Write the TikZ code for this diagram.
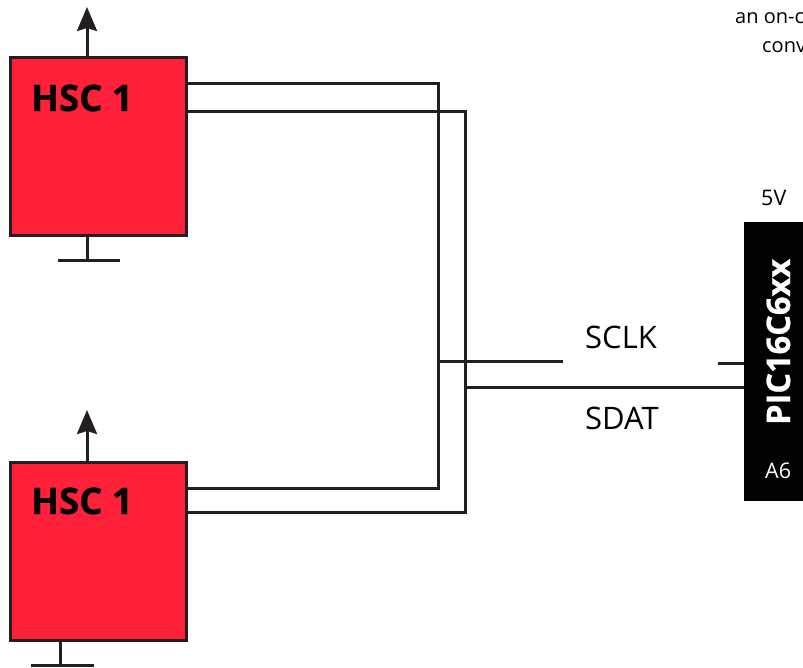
\documentclass[tikz,border=0pt]{standalone}
\usepackage{fontspec}
\setmainfont{Open Sans}
\newfontfamily\heavyfont[FakeBold=0.8]{Open Sans Bold}
\usetikzlibrary{arrows.meta}
\definecolor{inkc}{HTML}{231F20}
\definecolor{hscred}{HTML}{FF2039}
\tikzset{
  hscbox/.style={draw=inkc,line width=3pt,fill=hscred,minimum width=176pt,minimum height=178pt,inner sep=0pt,outer sep=0pt},
  wire/.style={draw=inkc,line width=3pt,line join=miter},
  uparrow/.style={wire,-{Stealth[length=24pt,width=20pt,inset=3pt]}},
  hsclabel/.style={font=\fontsize{36.5}{37}\heavyfont,text=black,anchor=base west,inner sep=0pt},
  siglabel/.style={font=\fontsize{31}{31}\selectfont,text=black,anchor=base west,inner sep=0pt},
  smalllabel/.style={font=\fontsize{21.5}{22}\selectfont,text=black,anchor=base west,inner sep=0pt}
}
\begin{document}
\begin{tikzpicture}[x=1pt,y=-1pt]
\useasboundingbox (0,0) rectangle (803,668);
\node[hscbox,anchor=north west] (h1) at (10,58) {};
\node[hscbox,anchor=north west] (h2) at (10,462) {};
\node[fill=black,minimum width=59pt,minimum height=279pt,inner sep=0pt,outer sep=0pt,anchor=north west] (pic) at (744,222) {};
% labels
\node[hsclabel] (l1) at (31,111) {HSC 1};
\node[hsclabel] (l2) at (31,514) {HSC 1};
\node[siglabel] (sclk) at (585,348) {SCLK};
\node[siglabel] (sdat) at (585,429) {SDAT};
\node[smalllabel] (v5) at (761,206) {5V};
\node[smalllabel,text=white] (a6) at (765,478) {A6};
\node[font=\fontsize{32.5}{33}\heavyfont,text=white,rotate=90,anchor=base west,inner sep=0pt] (pn) at (790,425) {PIC16C6xx};
\node[font=\fontsize{20}{20}\selectfont,text=black,anchor=base west,inner sep=0pt] (t1) at (735,24) {an on-c};
\node[font=\fontsize{20}{20}\selectfont,text=black,anchor=base west,inner sep=0pt] (t2) at (762,53) {conv};
% free ends
\coordinate (a1) at (87,7);
\coordinate (a2) at (87,410);
\coordinate (g1a) at (87,261);
\coordinate (g1l) at (58,261);
\coordinate (g1r) at (120,261);
\coordinate (g2a) at (60,665);
\coordinate (g2l) at (31,665);
\coordinate (g2r) at (94,665);
\coordinate (clkend) at (563,361);
\coordinate (clkj) at (438,361);
\coordinate (datj) at (465,387);
\coordinate (picclk) at (718,363);
% arrows
\draw[uparrow] (h1.north -| a1) -- (a1);
\draw[uparrow] (h2.north -| a2) -- (a2);
% grounds
\draw[wire] (h1.south -| g1a) -- (g1a);
\draw[wire] (g1l) -- (g1r);
\draw[wire] (h2.south -| g2a) -- (g2a);
\draw[wire] (g2l) -- (g2r);
% buses
\draw[wire] (h1.east |- 0,84) -- (438,84) -- (438,488) -- (h2.east |- 0,488);
\draw[wire] (h1.east |- 0,112) -- (465,112) -- (465,512) -- (h2.east |- 0,512);
\draw[wire] (clkj) -- (clkend);
\draw[wire] (datj) -- (pic.west |- datj);
\draw[wire] (picclk) -- (pic.west |- picclk);
\end{tikzpicture}
\end{document}
